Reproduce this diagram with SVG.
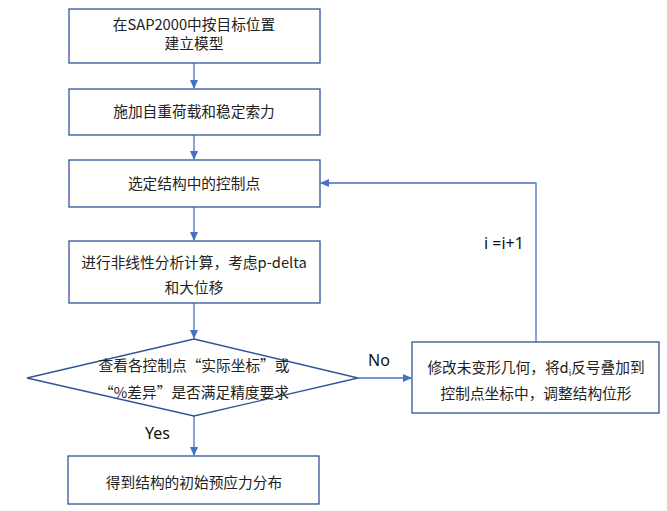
<svg xmlns="http://www.w3.org/2000/svg" width="667" height="511" viewBox="0 0 667 511">
<defs>
<style>
.box{fill:#fff;stroke:#2F5597;stroke-width:1.3}
.t{font-family:"Microsoft YaHei","Noto Sans CJK SC",sans-serif;font-size:14.7px;fill:#222;text-anchor:middle}
.l{font-family:"Noto Sans","Noto Sans CJK SC",sans-serif;font-size:16px;fill:#111}
.c{fill:none;stroke:#4472C4;stroke-width:1.3}
</style>
<marker id="ah" markerWidth="10" markerHeight="10" refX="8" refY="5" orient="auto" markerUnits="userSpaceOnUse">
<path d="M0,1 L9,5 L0,9 Z" fill="#4472C4"/>
</marker>
</defs>
<rect width="667" height="511" fill="#fff"/>
<g id="connectors">
<line class="c" x1="194" y1="63" x2="194" y2="88" marker-end="url(#ah)"/>
<line class="c" x1="194" y1="135" x2="194" y2="159" marker-end="url(#ah)"/>
<line class="c" x1="194" y1="207" x2="194" y2="240" marker-end="url(#ah)"/>
<line class="c" x1="194" y1="303" x2="194" y2="338" marker-end="url(#ah)"/>
<line class="c" x1="194" y1="416" x2="194" y2="455" marker-end="url(#ah)"/>
<line class="c" x1="358" y1="378" x2="411" y2="378" marker-end="url(#ah)"/>
<polyline class="c" points="536,342 536,183 321,183" marker-end="url(#ah)"/>
<text class="l" x="368" y="366">No</text>
<text class="l" x="145" y="439">Yes</text>
<text class="l" x="484" y="249">i =i+1</text>
</g>
<g id="n1">
<rect class="box" x="69" y="9" width="251" height="54"/>
<text class="t" x="194" y="30">在SAP2000中按目标位置</text>
<text class="t" x="194" y="49">建立模型</text>
</g>
<g id="n2">
<rect class="box" x="69" y="89" width="251" height="46"/>
<text class="t" x="194" y="117">施加自重荷载和稳定索力</text>
</g>
<g id="n3">
<rect class="box" x="69" y="160" width="251" height="47"/>
<text class="t" x="194" y="189">选定结构中的控制点</text>
</g>
<g id="n4">
<rect class="box" x="69" y="241" width="251" height="62"/>
<text class="t" x="194" y="268">进行非线性分析计算，考虑p-delta</text>
<text class="t" x="194" y="293">和大位移</text>
</g>
<g id="n5">
<polygon class="box" points="194,339 358,378 194,416 27,378"/>
<text class="t" x="194" y="371">查看各控制点“实际坐标”或</text>
<text class="t" x="194" y="398">“%差异”是否满足精度要求</text>
</g>
<g id="n6">
<rect class="box" x="68" y="456" width="251" height="48"/>
<text class="t" x="194" y="488">得到结构的初始预应力分布</text>
</g>
<g id="n7">
<rect class="box" x="412" y="342" width="247" height="71"/>
<text class="t" x="536" y="373">修改未变形几何，将d<tspan font-size="9" dy="3">i</tspan><tspan dy="-3">反号叠加到</tspan></text>
<text class="t" x="536" y="399">控制点坐标中，调整结构位形</text>
</g>
</svg>
